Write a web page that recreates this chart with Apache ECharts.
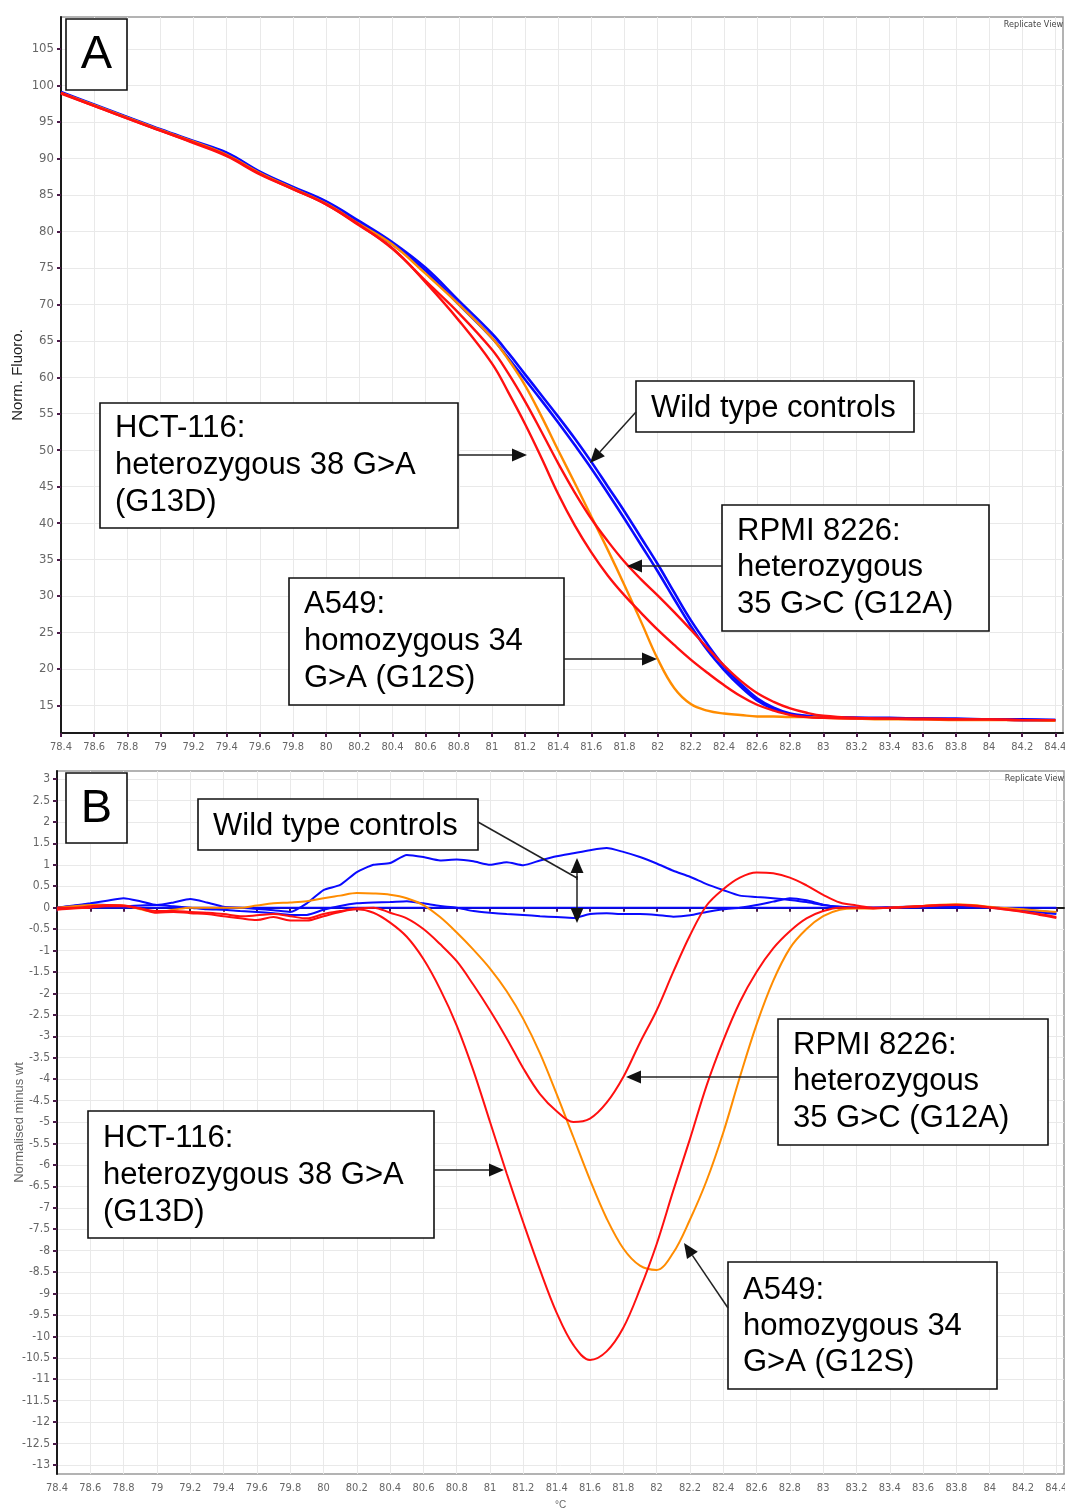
<!DOCTYPE html>
<html><head><meta charset="utf-8">
<script src="https://cdn.jsdelivr.net/npm/echarts@6/dist/echarts.min.js"></script>
<style>html,body{margin:0;padding:0;background:#fff}#c{width:1065px;height:1511px}</style>
</head><body><div id="c"></div>
<script>
// ---------- Panel A: normalised fluorescence ----------
const tempsA = [78.4,78.6,78.8,79.0,79.2,79.4,79.6,79.8,80.0,80.2,80.4,80.6,80.8,81.0,81.1,81.2,81.3,81.4,81.5,81.6,81.7,81.8,81.9,82.0,82.1,82.2,82.3,82.4,82.5,82.6,82.7,82.8,82.9,83.0,83.2,83.4,83.6,83.8,84.0,84.2,84.4];
const wtA1  = [99.1,97.4,95.7,94.0,92.4,90.8,88.2,86.1,84.1,81.4,78.5,75.0,70.5,66.0,63.3,60.4,57.5,54.6,51.6,48.4,45.0,41.6,38.0,34.4,30.5,26.7,23.4,20.4,18.0,16.0,14.7,13.9,13.6,13.4,13.3,13.3,13.2,13.2,13.1,13.1,13.0];
const wtA2  = [99.0,97.3,95.6,93.9,92.3,90.7,88.1,86.0,84.0,81.2,78.2,74.6,70.0,65.4,62.6,59.7,56.8,53.8,50.7,47.5,44.1,40.6,37.0,33.4,29.6,25.9,22.6,19.9,17.6,15.7,14.5,13.8,13.5,13.4,13.3,13.2,13.2,13.1,13.1,13.0,13.0];
const hctA  = [99.0,97.2,95.5,93.8,92.1,90.3,87.8,85.8,83.7,80.8,77.7,73.0,67.8,61.9,57.9,53.6,48.9,44.0,39.7,36.0,32.8,30.1,27.7,25.4,23.3,21.3,19.5,17.8,16.3,15.1,14.3,13.7,13.4,13.3,13.2,13.2,13.1,13.1,13.1,13.0,13.0];
const rpmiA = [98.9,97.2,95.5,93.8,92.2,90.4,87.9,85.8,83.7,80.9,77.6,73.2,68.8,63.8,60.5,56.7,52.5,48.2,44.2,40.6,37.5,34.7,32.3,30.1,27.8,25.4,22.9,20.5,18.4,16.7,15.5,14.6,14.0,13.6,13.3,13.2,13.2,13.1,13.1,13.0,13.0];
const a549A = [99.0,97.3,95.6,93.9,92.3,90.5,88.0,85.9,83.8,81.0,78.2,74.2,70.0,65.4,62.4,58.9,54.6,50.0,45.5,40.9,36.3,31.5,26.5,21.4,17.4,15.2,14.3,13.9,13.7,13.5,13.5,13.4,13.4,13.3,13.2,13.1,13.1,13.0,13.0,13.0,12.9];

// ---------- Panel B: normalised minus wild type ----------
const tempsB = [78.4,78.5,78.6,78.7,78.8,78.9,79.0,79.1,79.2,79.3,79.4,79.5,79.6,79.7,79.8,79.9,80.0,80.1,80.2,80.3,80.4,80.5,80.6,80.7,80.8,80.9,81.0,81.1,81.2,81.3,81.4,81.5,81.6,81.7,81.8,81.9,82.0,82.1,82.2,82.3,82.4,82.5,82.6,82.7,82.8,82.9,83.0,83.1,83.2,83.3,83.4,83.5,83.6,83.7,83.8,83.9,84.0,84.1,84.2,84.3,84.4];
const wtRefB = [0,0,0,0,0,0,0,0,0,0,0,0,0,0,0,0,0,0,0,0,0,0,0,0,0,0,0,0,0,0,0,0,0,0,0,0,0,0,0,0,0,0,0,0,0,0,0,0,0,0,0,0,0,0,0,0,0,0,0,0,0];
const wtUpB = [0,0.05,0.1,0.16,0.22,0.15,0.06,0.12,0.2,0.12,0.02,0,-0.03,-0.06,-0.1,0.1,0.41,0.53,0.83,1.0,1.04,1.23,1.18,1.1,1.12,1.08,1.0,1.06,0.99,1.1,1.2,1.27,1.34,1.39,1.3,1.18,1.03,0.86,0.72,0.55,0.41,0.28,0.25,0.22,0.18,0.13,0.06,0.02,0,0,0.01,0.02,0.03,0.04,0.05,0.03,0.01,-0.02,-0.05,-0.08,-0.12];
const wtLoB = [0,0.04,0.08,0.06,0.03,0.05,0.06,0.03,0,-0.04,-0.05,-0.08,-0.1,-0.13,-0.17,-0.17,-0.05,0.04,0.1,0.12,0.13,0.15,0.1,0.04,0,-0.08,-0.12,-0.15,-0.17,-0.2,-0.22,-0.24,-0.15,-0.13,-0.15,-0.15,-0.17,-0.21,-0.18,-0.1,-0.04,0,0.06,0.14,0.22,0.17,0.07,0.02,0,0,0,0.01,0.02,0.03,0.04,0.02,0,-0.03,-0.07,-0.11,-0.15];
const hctB = [0,0,0.03,0.06,0.05,-0.02,-0.12,-0.1,-0.13,-0.15,-0.2,-0.25,-0.29,-0.22,-0.3,-0.3,-0.2,-0.1,-0.04,-0.12,-0.35,-0.68,-1.2,-1.9,-2.75,-3.8,-5.0,-6.2,-7.35,-8.45,-9.45,-10.2,-10.55,-10.35,-9.8,-8.9,-7.85,-6.6,-5.4,-4.15,-3.1,-2.2,-1.5,-0.95,-0.55,-0.25,-0.08,0,0,-0.02,0,0.01,0.03,0.05,0.06,0.04,0,-0.05,-0.1,-0.17,-0.24];
const rpmiB = [-0.05,-0.02,0,0.03,0.03,-0.02,-0.08,-0.08,-0.1,-0.12,-0.15,-0.2,-0.18,-0.15,-0.2,-0.25,-0.15,-0.08,-0.02,0,-0.12,-0.25,-0.5,-0.85,-1.25,-1.8,-2.4,-3.05,-3.75,-4.35,-4.75,-5.0,-4.92,-4.55,-3.95,-3.15,-2.4,-1.5,-0.65,0.05,0.43,0.7,0.82,0.8,0.7,0.52,0.3,0.12,0.05,0,0,0.02,0.04,0.06,0.07,0.05,0.01,-0.04,-0.09,-0.15,-0.22];
const a549B = [0,0.03,0.06,0.06,0.05,-0.04,-0.1,-0.05,0,0,0,0,0.05,0.1,0.12,0.15,0.22,0.28,0.34,0.33,0.3,0.22,0.06,-0.22,-0.58,-0.98,-1.42,-1.95,-2.6,-3.4,-4.35,-5.35,-6.35,-7.25,-7.95,-8.35,-8.45,-8.05,-7.28,-6.37,-5.25,-3.95,-2.73,-1.71,-0.95,-0.5,-0.2,-0.05,-0.02,-0.02,0,0.02,0.04,0.07,0.08,0.06,0.02,-0.01,-0.04,-0.07,-0.1];

// ---------- Tick labels ----------
const xTickLabels = [78.4,78.6,78.8,79,79.2,79.4,79.6,79.8,80,80.2,80.4,80.6,80.8,81,81.2,81.4,81.6,81.8,82,82.2,82.4,82.6,82.8,83,83.2,83.4,83.6,83.8,84,84.2,84.4];
const yTickLabelsA = [15,20,25,30,35,40,45,50,55,60,65,70,75,80,85,90,95,100,105];
const yTickLabelsB = [3,2.5,2,1.5,1,0.5,0,-0.5,-1,-1.5,-2,-2.5,-3,-3.5,-4,-4.5,-5,-5.5,-6,-6.5,-7,-7.5,-8,-8.5,-9,-9.5,-10,-10.5,-11,-11.5,-12,-12.5,-13];

const BLUE = '#0a0aff', RED = '#ff1010', ORANGE = '#ff8c00';
const NARROW = "'Liberation Sans Narrow','DejaVu Sans Condensed','Liberation Sans',sans-serif";
const SANS = "'Liberation Sans',Arial,sans-serif";
const GRIDLINE = '#e9e9e9';

function pairs(xs, ys) { return xs.map((x, i) => [x, ys[i]]); }
function fmt(v) { return String(Number(Number(v).toFixed(1))); }

function xAxisDef(gi, showName) {
  return {
    type: 'value', gridIndex: gi, min: 78.4, max: 84.446, interval: 0.2,
    name: showName ? '°C' : '', nameLocation: 'middle', nameGap: 26, nameMoveOverlap: false,
    nameTextStyle: { fontSize: 10, color: '#666', fontFamily: SANS },
    axisLine: { show: true, lineStyle: { color: '#1a1a1a', width: 2 } },
    axisTick: { show: true, customValues: xTickLabels, length: 4, lineStyle: { color: '#4a1a48', width: 2 } },
    axisLabel: { customValues: xTickLabels, margin: 9, fontSize: 11, color: '#666', fontFamily: NARROW, formatter: fmt },
    splitLine: { show: true, lineStyle: { color: GRIDLINE, width: 1 } }
  };
}
function yAxisDef(gi, min, max, ticks, name, nameStyle, gap, fs) {
  return {
    type: 'value', gridIndex: gi, min: min, max: max,
    name: name, nameLocation: 'middle', nameGap: gap, nameMoveOverlap: false, nameTextStyle: nameStyle,
    axisLine: { show: true, lineStyle: { color: '#1a1a1a', width: 2 } },
    axisTick: { show: true, customValues: ticks, length: 4, lineStyle: { color: '#4a1a48', width: 2 } },
    axisLabel: { customValues: ticks, margin: 7, fontSize: fs, color: '#666', fontFamily: NARROW, formatter: fmt },
    splitLine: { show: false }
  };
}
function line(name, xs, ys, color, gi, width, smooth) {
  return { name: name, type: 'line', xAxisIndex: gi, yAxisIndex: gi, data: pairs(xs, ys), z: 3,
    showSymbol: false, smooth: smooth, lineStyle: { color: color, width: width }, itemStyle: { color: color },
    emphasis: { disabled: true }, animation: false };
}
function hGridLines(gi, ticks) {
  return { type: 'line', xAxisIndex: gi, yAxisIndex: gi, data: [], z: 0, silent: true, animation: false,
    markLine: { z: 0, silent: true, symbol: ['none', 'none'], label: { show: false }, animation: false,
      lineStyle: { color: GRIDLINE, width: 1, type: 'solid' }, emphasis: { disabled: true },
      data: ticks.map(v => ({ yAxis: v })) } };
}

// ---------- annotation helpers ----------
const G = [];
function box(x, y, w, h, lines, cy, lh) {
  G.push({ type: 'rect', z: 100, shape: { x: x, y: y, width: w, height: h },
    style: { fill: '#fff', stroke: '#111', lineWidth: 1.6 } });
  G.push({ type: 'text', z: 101, style: { x: x + 15, y: cy, text: lines.join('\n'), fontSize: 31,
    fontFamily: SANS, fill: '#000', lineHeight: lh, verticalAlign: 'middle', align: 'left' } });
}
function letterBox(x, y, w, h, t) {
  G.push({ type: 'rect', z: 100, shape: { x: x, y: y, width: w, height: h },
    style: { fill: '#fff', stroke: '#111', lineWidth: 1.6 } });
  G.push({ type: 'text', z: 101, style: { x: x + w / 2, y: y + h / 2 + 1, text: t, fontSize: 47,
    fontFamily: SANS, fill: '#000', align: 'center', verticalAlign: 'middle' } });
}
function seg(x1, y1, x2, y2) {
  G.push({ type: 'line', z: 100, shape: { x1: x1, y1: y1, x2: x2, y2: y2 }, style: { stroke: '#222', lineWidth: 1.5 } });
}
function arrow(x1, y1, x2, y2) {
  const dx = x2 - x1, dy = y2 - y1, L = Math.hypot(dx, dy), ux = dx / L, uy = dy / L;
  const hl = 15, hw = 6.5;
  const bx = x2 - ux * hl, by = y2 - uy * hl;
  seg(x1, y1, bx, by);
  G.push({ type: 'polygon', z: 100, shape: { points: [[x2, y2], [bx - uy * hw, by + ux * hw], [bx + uy * hw, by - ux * hw]] },
    style: { fill: '#111' } });
}
function smallText(x, y, t) {
  G.push({ type: 'text', z: 101, style: { x: x, y: y, text: t, fontSize: 9, fontFamily: NARROW, fill: '#444',
    align: 'right', verticalAlign: 'middle' } });
}

// Panel A annotations
letterBox(66, 19, 61, 71, 'A');
box(636, 381, 278, 51, ['Wild type controls'], 408, 37);
arrow(636, 412, 590, 463);
box(100, 403, 358, 125, ['HCT-116:', 'heterozygous 38 G>A', '(G13D)'], 465, 37);
arrow(458, 455, 527, 455);
box(722, 505, 267, 126, ['RPMI 8226:', 'heterozygous', '35 G>C (G12A)'], 567.5, 36.5);
arrow(722, 566, 627, 566);
box(289, 578, 275, 127, ['A549:', 'homozygous 34', 'G>A (G12S)'], 641, 37);
arrow(564, 659, 657, 659);
smallText(1063, 25, 'Replicate View');

// Panel B annotations
letterBox(66, 773, 61, 70, 'B');
box(198, 799, 280, 51, ['Wild type controls'], 826, 37);
seg(478, 822, 577, 878);
arrow(577, 880, 577, 858);
arrow(577, 876, 577, 923);
box(778, 1019, 270, 126, ['RPMI 8226:', 'heterozygous', '35 G>C (G12A)'], 1081.5, 36.5);
arrow(778, 1077, 626, 1077);
box(88, 1111, 346, 127, ['HCT-116:', 'heterozygous 38 G>A', '(G13D)'], 1175, 37);
arrow(434, 1170, 504, 1170);
box(728, 1262, 269, 127, ['A549:', 'homozygous 34', 'G>A (G12S)'], 1326, 36);
arrow(728, 1308, 684, 1243);
smallText(1064, 779, 'Replicate View');

const chart = echarts.init(document.getElementById('c'), null, { renderer: 'canvas' });
chart.setOption({
  animation: false,
  backgroundColor: '#fff',
  grid: [
    { left: 61, top: 17, width: 1002, height: 716, show: true, borderColor: '#9a9a9a', borderWidth: 1.5,
      backgroundColor: 'transparent', containLabel: false, outerBoundsMode: 'none' },
    { left: 57, top: 771, width: 1007, height: 703, show: true, borderColor: '#9a9a9a', borderWidth: 1.5,
      backgroundColor: 'transparent', containLabel: false, outerBoundsMode: 'none' }
  ],
  xAxis: [xAxisDef(0, false), xAxisDef(1, true)],
  yAxis: [
    yAxisDef(0, 11.23, 109.39, yTickLabelsA, 'Norm. Fluoro.', { fontSize: 15, color: '#222', fontFamily: SANS }, 36, 13),
    yAxisDef(1, -13.21, 3.187, yTickLabelsB, 'Normalised minus wt', { fontSize: 13, color: '#666', fontFamily: SANS }, 31, 12)
  ],
  series: [
    hGridLines(0, yTickLabelsA),
    hGridLines(1, yTickLabelsB),
    line('WT 1', tempsA, wtA1, BLUE, 0, 2.6, 0.4),
    line('WT 2', tempsA, wtA2, BLUE, 0, 2.6, 0.4),
    line('A549', tempsA, a549A, ORANGE, 0, 2.4, 0.4),
    line('RPMI 8226', tempsA, rpmiA, RED, 0, 2.4, 0.4),
    line('HCT-116', tempsA, hctA, RED, 0, 2.4, 0.4),
    line('WT ref', tempsB, wtRefB, BLUE, 1, 2, false),
    line('WT up', tempsB, wtUpB, BLUE, 1, 2, 0.2),
    line('WT low', tempsB, wtLoB, BLUE, 1, 2, 0.2),
    line('A549 B', tempsB, a549B, ORANGE, 1, 2, 0.35),
    line('RPMI B', tempsB, rpmiB, RED, 1, 2, 0.35),
    line('HCT B', tempsB, hctB, RED, 1, 2, 0.35)
  ],
  graphic: G
});
</script></body></html>
